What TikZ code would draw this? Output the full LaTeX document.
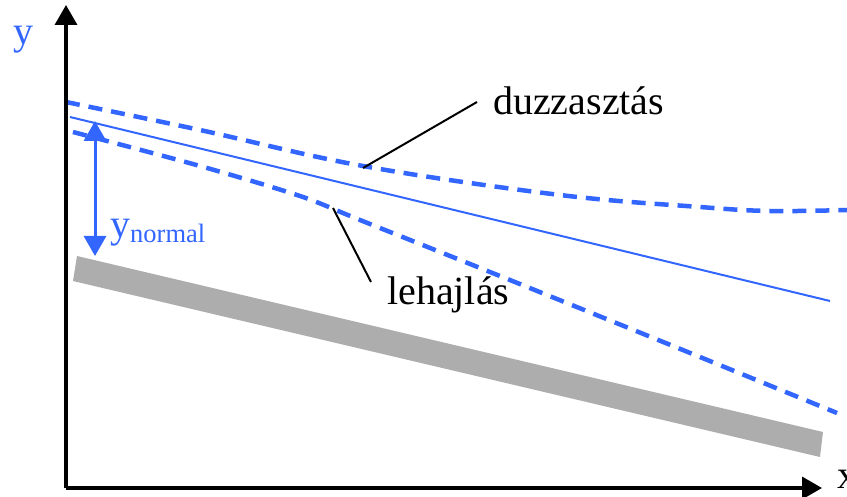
\documentclass[tikz,border=0pt]{standalone}
\usepackage{fontspec}
\setmainfont{Liberation Serif}
\usetikzlibrary{arrows.meta}
\definecolor{myblue}{RGB}{51,102,255}
\definecolor{mygray}{RGB}{173,173,173}
\tikzset{
  axisline/.style={line width=3.5pt, black, -{Triangle[length=20pt,width=22pt]}},
  dashcurve/.style={myblue, line width=4.5pt, dash pattern=on 14pt off 9pt},
  leader/.style={black, line width=2pt},
  bigtext/.style={inner sep=0pt, anchor=base west, font=\fontsize{40}{48}\selectfont},
}
\begin{document}
\begin{tikzpicture}[x=1pt,y=-1pt]
\useasboundingbox (0,0) rectangle (847,497);
% gray bar
\fill[mygray] (77,256) -- (823,432) -- (820,457) -- (73,281) -- cycle;
% solid line
\draw[myblue, line width=2pt] (70,117) -- (830,301);
% upper dashed (duzzasztas)
\draw[dashcurve] plot[smooth, tension=0.6] coordinates {(66,102) (200,130) (363,166) (560,195) (700,207) (770,211) (847,210)};
% lower dashed (lehajlas)
\draw[dashcurve] plot[smooth, tension=0.5] coordinates {(73,132) (200,166) (300,196) (360,220) (500,276) (673,346) (837,413)};
% axes
\coordinate (O) at (66,488);
\coordinate (ytip) at (66,5);
\coordinate (xtip) at (822,488);
\draw[axisline] (O) -- (ytip);
\draw[axisline] (O) -- (xtip);
% labels
\node[bigtext, myblue] (ylab) at (13,45) {y};
\node[bigtext] (xlab) at (837,488) {x};
\node[bigtext] (duz) at (493,115) {duzzasztás};
\node[bigtext] (leh) at (387,305) {lehajlás};
\node[bigtext, myblue] (ynorm) at (110,238) {y\raisebox{-5pt}{\fontsize{26.5}{30}\selectfont normal}};
% double arrow
\coordinate (ntop) at (95,121);
\coordinate (nbot) at (95,256);
\draw[myblue, line width=3pt, {Triangle[length=20pt,width=22pt]}-{Triangle[length=20pt,width=22pt]}] (ntop) -- (nbot);
% leaders
\coordinate (duzA) at (363,168);
\coordinate (duzB) at (477,102);
\coordinate (lehA) at (333,208);
\coordinate (lehB) at (371,282);
\draw[leader] (duzA) -- (duzB);
\draw[leader] (lehA) -- (lehB);
\end{tikzpicture}
\end{document}
